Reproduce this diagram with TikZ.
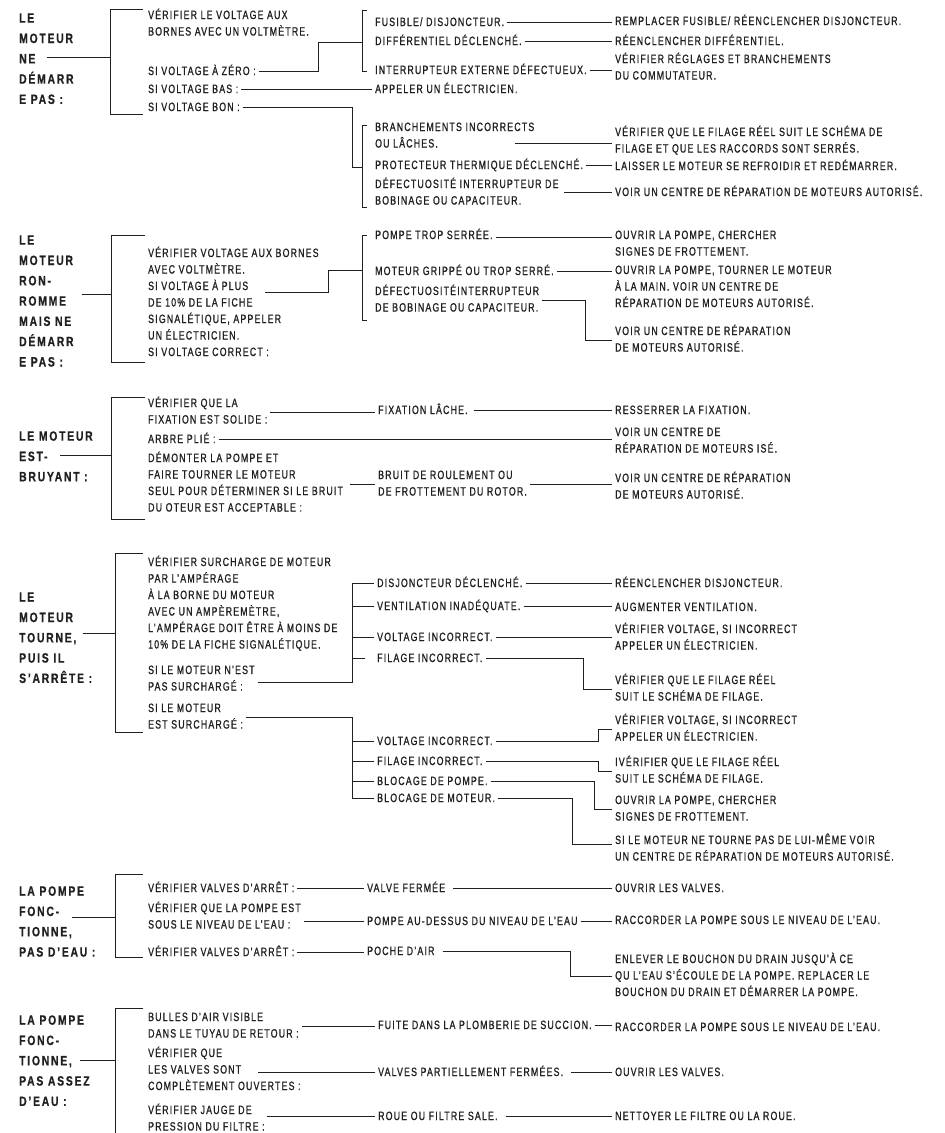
\documentclass[tikz,border=0pt]{standalone}
\usepackage{fontspec}
\newfontfamily\bfnt[FakeStretch=0.73,LetterSpace=10,FakeBold=1.0]{Liberation Sans}
\newfontfamily\hfnt[FakeStretch=0.77,LetterSpace=13,FakeBold=0.6]{Liberation Sans}
\newcommand{\ml}[1]{\begin{tabular}[t]{@{}l@{}}#1\end{tabular}}
\definecolor{ink}{HTML}{231F20}
\tikzset{
  tx/.style={anchor=base west, inner xsep=3pt, inner ysep=0pt, text=ink, font=\bfnt\fontsize{12}{16.5}\selectfont},
  hd/.style={anchor=base west, inner sep=0pt, text=ink, font=\hfnt\bfseries\fontsize{13.5}{20.3}\selectfont},
  cn/.style={line width=0.75pt, draw=ink}
}
\begin{document}
\begin{tikzpicture}[x=1pt,y=-1pt]
\useasboundingbox (0,0) rectangle (945,1133);
\clip (0,0) rectangle (945,1133);
\fill[white] (0,0) rectangle (945,1133);
% bus coordinates
\coordinate (v4) at (352,0);
\coordinate (v5) at (583,0);
\coordinate (v6) at (598,0);
\coordinate (v7) at (594,0);
\coordinate (v8) at (572,0);
\coordinate (v9) at (570,0);
\coordinate (v2) at (585,0);

%================ BLOCK 1
\node[hd] (h1) at (19,22.7) {\ml{LE\\MOTEUR\\NE\\DÉMARR\\E PAS :}};
\draw[cn] (47,57) -- (110,57);
\draw[cn] (143,9) -- (110,9) -- (110,114) -- (143,114);
\node[tx] (a1) at (145,19) {\ml{VÉRIFIER LE VOLTAGE AUX\\BORNES AVEC UN VOLTMÈTRE.}};
\node[tx] (a2) at (145,75) {\ml{SI VOLTAGE À ZÉRO :}};
\node[tx] (a3) at (145,93) {\ml{SI VOLTAGE BAS :}};
\node[tx] (a4) at (145,111) {\ml{SI VOLTAGE BON :}};
\node[tx] (b1) at (372,26) {\ml{FUSIBLE/ DISJONCTEUR.}};
\node[tx] (b2) at (372,45) {\ml{DIFFÉRENTIEL DÉCLENCHÉ.}};
\node[tx] (b3) at (372,74) {\ml{INTERRUPTEUR EXTERNE DÉFECTUEUX.}};
\node[tx] (b4) at (372,93) {\ml{APPELER UN ÉLECTRICIEN.}};
\node[tx] (b5) at (372,131) {\ml{BRANCHEMENTS INCORRECTS\\OU LÂCHES.}};
\node[tx] (b6) at (372,169) {\ml{PROTECTEUR THERMIQUE DÉCLENCHÉ.}};
\node[tx] (b7) at (372,188) {\ml{DÉFECTUOSITÉ INTERRUPTEUR DE\\BOBINAGE OU CAPACITEUR.}};
\node[tx] (c1) at (612,25) {\ml{REMPLACER FUSIBLE/ RÉENCLENCHER DISJONCTEUR.}};
\node[tx] (c2) at (612,45) {\ml{RÉENCLENCHER DIFFÉRENTIEL.}};
\node[tx] (c3) at (612,63) {\ml{VÉRIFIER RÉGLAGES ET BRANCHEMENTS\\DU COMMUTATEUR.}};
\node[tx] (c4) at (612,136) {\ml{VÉRIFIER QUE LE FILAGE RÉEL SUIT LE SCHÉMA DE\\FILAGE ET QUE LES RACCORDS SONT SERRÉS.}};
\node[tx] (c5) at (612,170) {\ml{LAISSER LE MOTEUR SE REFROIDIR ET REDÉMARRER.}};
\node[tx] (c6) at (612,196) {\ml{VOIR UN CENTRE DE RÉPARATION DE MOTEURS AUTORISÉ.}};
\draw[cn] (a2.east) -| (318,42) -- (362,42);
\draw[cn] (367,10) -- (362,10) -- (362,71) -- (367,71);
\draw[cn] (a3.east) -- (a3.east -| b4.west);
\draw[cn] (a4.east) -| (352,167) -- (362,167);
\draw[cn] (367,125) -- (362,125) -- (362,207) -- (367,207);
\draw[cn] (b1.east) -- (b1.east -| c1.west);
\draw[cn] (b2.east) -- (b2.east -| c2.west);
\draw[cn] (b3.east) -- (b3.east -| c3.west);
\draw[cn] (c4.west |- 0,143) -- (515,143);
\draw[cn] (b6.east) -- (b6.east -| c5.west);
\draw[cn] (c6.west) -- ++(-48,0);

%================ BLOCK 2
\node[hd] (h2) at (19,244.7) {\ml{LE\\MOTEUR\\RON-\\ROMME\\MAIS NE\\DÉMARR\\E PAS :}};
\draw[cn] (82,294) -- (111,294);
\draw[cn] (145,235) -- (111,235) -- (111,362) -- (145,362);
\node[tx] (a5) at (145,257) {\ml{VÉRIFIER VOLTAGE AUX BORNES\\AVEC VOLTMÈTRE.\\SI VOLTAGE À PLUS\\DE 10\% DE LA FICHE\\SIGNALÉTIQUE, APPELER\\UN ÉLECTRICIEN.\\SI VOLTAGE CORRECT :}};
\draw[cn] (265,292) -| (328,270) -- (362,270);
\draw[cn] (367,235) -- (362,235) -- (362,320) -- (367,320);
\node[tx] (b8) at (372,239) {\ml{POMPE TROP SERRÉE.}};
\node[tx] (b9) at (372,275) {\ml{MOTEUR GRIPPÉ OU TROP SERRÉ.}};
\node[tx] (b10) at (372,295) {\ml{DÉFECTUOSITÉINTERRUPTEUR\\DE BOBINAGE OU CAPACITEUR.}};
\node[tx] (c7) at (612,239) {\ml{OUVRIR LA POMPE, CHERCHER\\SIGNES DE FROTTEMENT.}};
\node[tx] (c8) at (612,274) {\ml{OUVRIR LA POMPE, TOURNER LE MOTEUR\\À LA MAIN. VOIR UN CENTRE DE\\RÉPARATION DE MOTEURS AUTORISÉ.}};
\node[tx] (c9) at (612,335) {\ml{VOIR UN CENTRE DE RÉPARATION\\DE MOTEURS AUTORISÉ.}};
\draw[cn] (b8.east) ++(0,2) coordinate (t8) -- (t8 -| c7.west);
\draw[cn] (b9.east) -- (b9.east -| c8.west);
\draw[cn] (b10.east) -| (c9.west -| v2) -- (c9.west);

%================ BLOCK 3
\node[hd] (h3) at (19,440.7) {\ml{LE MOTEUR\\EST-\\BRUYANT :}};
\draw[cn] (60,455) -- (111,455);
\draw[cn] (145,397) -- (111,397) -- (111,519) -- (145,519);
\node[tx] (a6) at (145,407) {\ml{VÉRIFIER QUE LA\\FIXATION EST SOLIDE :}};
\node[tx] (a7) at (145,443) {\ml{ARBRE PLIÉ :}};
\node[tx] (a8) at (145,462) {\ml{DÉMONTER LA POMPE ET\\FAIRE TOURNER LE MOTEUR\\SEUL POUR DÉTERMINER SI LE BRUIT\\DU OTEUR EST ACCEPTABLE :}};
\node[tx] (b11) at (375,414) {\ml{FIXATION LÂCHE.}};
\node[tx] (b12) at (375,479) {\ml{BRUIT DE ROULEMENT OU\\DE FROTTEMENT DU ROTOR.}};
\node[tx] (c10) at (612,414) {\ml{RESSERRER LA FIXATION.}};
\node[tx] (c11) at (612,436) {\ml{VOIR UN CENTRE DE\\RÉPARATION DE MOTEURS ISÉ.}};
\node[tx] (c12) at (612,482) {\ml{VOIR UN CENTRE DE RÉPARATION\\DE MOTEURS AUTORISÉ.}};
\draw[cn] (a6.east) -- (a6.east -| b11.west);
\draw[cn] (b11.east) ++(3,0) -- (b11.east -| c10.west);
\draw[cn] (a7.east) -- (a7.east -| c11.west);
\draw[cn] (b12.west) -- ++(-25,0);
\draw[cn] (b12.east) -- (b12.east -| c12.west);

%================ BLOCK 4
\node[hd] (h4) at (19,601.7) {\ml{LE\\MOTEUR\\TOURNE,\\PUIS IL\\S’ARRÊTE :}};
\draw[cn] (83,633) -- (115,633);
\draw[cn] (143,553) -- (115,553) -- (115,732) -- (143,732);
\node[tx] (a9) at (145,566) {\ml{VÉRIFIER SURCHARGE DE MOTEUR\\PAR L’AMPÉRAGE\\À LA BORNE DU MOTEUR\\AVEC UN AMPÈREMÈTRE,\\L’AMPÉRAGE DOIT ÊTRE À MOINS DE\\10\% DE LA FICHE SIGNALÉTIQUE.}};
\node[tx] (a10) at (145,674) {\ml{SI LE MOTEUR N’EST\\PAS SURCHARGÉ :}};
\node[tx] (a11) at (145,712) {\ml{SI LE MOTEUR\\EST SURCHARGÉ :}};
\node[tx] (b13) at (374,587) {\ml{DISJONCTEUR DÉCLENCHÉ.}};
\node[tx] (b14) at (374,610) {\ml{VENTILATION INADÉQUATE.}};
\node[tx] (b15) at (374,641) {\ml{VOLTAGE INCORRECT.}};
\node[tx] (b16) at (374,662) {\ml{FILAGE INCORRECT.}};
\node[tx] (b17) at (374,745) {\ml{VOLTAGE INCORRECT.}};
\node[tx] (b18) at (374,765) {\ml{FILAGE INCORRECT.}};
\node[tx] (b19) at (374,785) {\ml{BLOCAGE DE POMPE.}};
\node[tx] (b20) at (374,802) {\ml{BLOCAGE DE MOTEUR.}};
\draw[cn] (a10.east) ++(0,3) -| (b13.west -| v4) -- (b13.west);
\draw[cn] (b14.west -| v4) -- (b14.west);
\draw[cn] (b15.west -| v4) -- (b15.west);
\draw[cn] (b16.west -| v4) -- ++(13,0);
\draw[cn] (a11.east) -| (b20.west -| v4) -- (b20.west);
\draw[cn] (b17.west -| v4) -- (b17.west);
\draw[cn] (b18.west -| v4) -- (b18.west);
\draw[cn] (b19.west -| v4) -- (b19.west);
\node[tx] (c13) at (612,587) {\ml{RÉENCLENCHER DISJONCTEUR.}};
\node[tx] (c14) at (612,611) {\ml{AUGMENTER VENTILATION.}};
\node[tx] (c15) at (612,633) {\ml{VÉRIFIER VOLTAGE, SI INCORRECT\\APPELER UN ÉLECTRICIEN.}};
\node[tx] (c16) at (612,684) {\ml{VÉRIFIER QUE LE FILAGE RÉEL\\SUIT LE SCHÉMA DE FILAGE.}};
\node[tx] (c17) at (612,724) {\ml{VÉRIFIER VOLTAGE, SI INCORRECT\\APPELER UN ÉLECTRICIEN.}};
\node[tx] (c18) at (612,766) {\ml{IVÉRIFIER QUE LE FILAGE RÉEL\\SUIT LE SCHÉMA DE FILAGE.}};
\node[tx] (c19) at (612,804) {\ml{OUVRIR LA POMPE, CHERCHER\\SIGNES DE FROTTEMENT.}};
\node[tx] (c20) at (612,844) {\ml{SI LE MOTEUR NE TOURNE PAS DE LUI-MÊME VOIR\\UN CENTRE DE RÉPARATION DE MOTEURS AUTORISÉ.}};
\draw[cn] (b13.east) -- (b13.east -| c13.west);
\draw[cn] (b14.east) -- (b14.east -| c14.west);
\draw[cn] (b15.east) -- (b15.east -| c15.west);
\draw[cn] (b16.east) -| (c16.west -| v5) -- (c16.west);
\draw[cn] (b17.east) -| (c17.west -| v6) -- (c17.west);
\draw[cn] (b18.east) -| (c18.west -| v6) -- (c18.west);
\draw[cn] (b19.east) -| (c19.west -| v7) -- (c19.west);
\draw[cn] (b20.east) -| (572,844) -- (c20.west |- 0,844);

%================ BLOCK 5
\node[hd] (h5) at (19,895.7) {\ml{LA POMPE\\FONC-\\TIONNE,\\PAS D’EAU :}};
\draw[cn] (72,917) -- (115,917);
\draw[cn] (143,874) -- (115,874) -- (115,957) -- (143,957);
\node[tx] (a12) at (145,892) {\ml{VÉRIFIER VALVES D’ARRÊT :}};
\node[tx] (a13) at (145,912) {\ml{VÉRIFIER QUE LA POMPE EST\\SOUS LE NIVEAU DE L’EAU :}};
\node[tx] (a14) at (145,956) {\ml{VÉRIFIER VALVES D’ARRÊT :}};
\node[tx] (b21) at (364,892) {\ml{VALVE FERMÉE}};
\node[tx] (b22) at (364,925) {\ml{POMPE AU-DESSUS DU NIVEAU DE L’EAU}};
\node[tx] (b23) at (364,955) {\ml{POCHE D’AIR}};
\node[tx] (c21) at (612,892) {\ml{OUVRIR LES VALVES.}};
\node[tx] (c22) at (612,924) {\ml{RACCORDER LA POMPE SOUS LE NIVEAU DE L’EAU.}};
\node[tx] (c23) at (612,963) {\ml{ENLEVER LE BOUCHON DU DRAIN JUSQU’À CE\\QU L’EAU S’ÉCOULE DE LA POMPE. REPLACER LE\\BOUCHON DU DRAIN ET DÉMARRER LA POMPE.}};
\draw[cn] (a12.east) -- (a12.east -| b21.west);
\draw[cn] (b22.west) -- (b22.west -| a13.east);
\draw[cn] (a14.east) -- (a14.east -| b23.west);
\draw[cn] (b21.east) ++(5,0) -- (b21.east -| c21.west);
\draw[cn] (b22.east) -- (b22.east -| c22.west);
\draw[cn] (b23.east) ++(5,0) -| (c23.west -| v9) -- (c23.west);

%================ BLOCK 6
\node[hd] (h6) at (19,1024.7) {\ml{LA POMPE\\FONC-\\TIONNE,\\PAS ASSEZ\\D’EAU :}};
\draw[cn] (80,1060) -- (115,1060);
\draw[cn] (143,1008) -- (115,1008) -- (115,1140);
\node[tx] (a15) at (145,1021) {\ml{BULLES D’AIR VISIBLE\\DANS LE TUYAU DE RETOUR :}};
\node[tx] (a16) at (145,1057) {\ml{VÉRIFIER QUE\\LES VALVES SONT\\COMPLÈTEMENT OUVERTES :}};
\node[tx] (a17) at (145,1114) {\ml{VÉRIFIER JAUGE DE\\PRESSION DU FILTRE :}};
\node[tx] (b24) at (375,1029) {\ml{FUITE DANS LA PLOMBERIE DE SUCCION.}};
\node[tx] (b25) at (375,1076) {\ml{VALVES PARTIELLEMENT FERMÉES.}};
\node[tx] (b26) at (375,1120) {\ml{ROUE OU FILTRE SALE.}};
\node[tx] (c24) at (612,1031) {\ml{RACCORDER LA POMPE SOUS LE NIVEAU DE L’EAU.}};
\node[tx] (c25) at (612,1076) {\ml{OUVRIR LES VALVES.}};
\node[tx] (c26) at (612,1120) {\ml{NETTOYER LE FILTRE OU LA ROUE.}};
\draw[cn] (a15.east) -- (a15.east -| b24.west);
\draw[cn] (b25.west) -- ++(-117,0);
\draw[cn] (b26.west) -- ++(-108,0);
\draw[cn] (b24.east) -- (b24.east -| c24.west);
\draw[cn] (b25.east) ++(5,0) -- (b25.east -| c25.west);
\draw[cn] (b26.east) ++(5,0) -- (b26.east -| c26.west);
\end{tikzpicture}
\end{document}
